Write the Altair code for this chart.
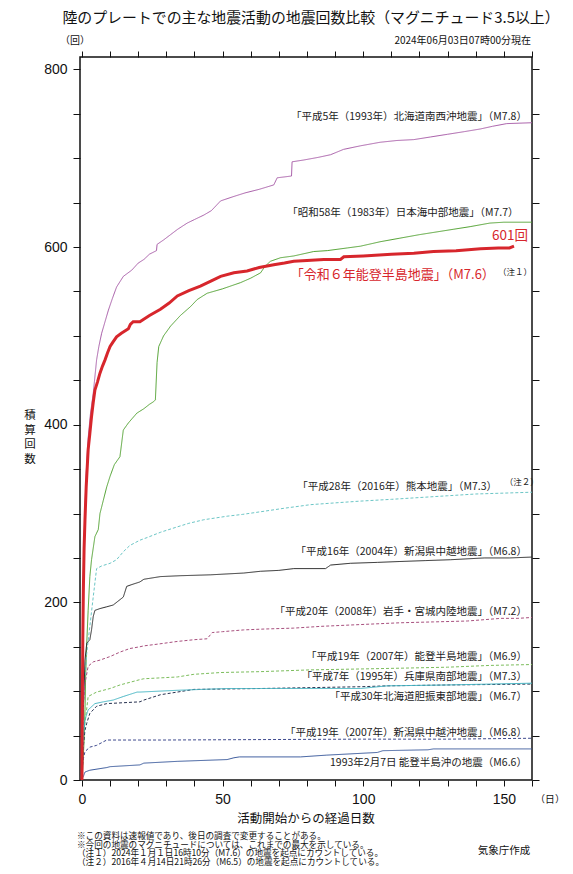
import altair as alt
import pandas as pd

# ---------------- data ----------------
noto2024_days = [0, 0.05, 0.15, 0.3, 0.5, 0.75, 1.07, 1.5, 2.2, 2.8, 3.4, 4.0, 4.6, 5.5, 6.4, 7.3, 8.2, 9.1, 10, 11, 12.3, 14.0, 16.5, 17.2, 18.2, 20.6, 24, 27.9, 31, 33.9, 38, 42.1, 46, 49.3, 54, 58.7, 63, 68.2, 72, 75.3, 80, 86, 91.9, 93.1, 100, 110, 118, 125, 133, 141.7, 148, 152, 153.6]
noto2024_counts = [0, 40, 100, 160, 215, 260, 293, 330, 372, 390, 409, 425, 439, 448, 458, 466, 473, 481, 488, 493, 499, 503, 508, 513, 516, 516, 523, 530, 537, 545, 551, 556, 562, 567, 571, 573, 577, 580, 582, 584, 585, 586, 586, 589, 590, 592, 593, 595, 596, 598, 599, 599, 601]

hokkaido1993_days = [0, 0.1, 0.3, 0.6, 1.0, 1.5, 2.2, 3.0, 4.0, 5.2, 6.0, 7.0, 8.2, 9.4, 10.8, 12.3, 14.7, 17.7, 20, 22, 24, 26.5, 26.7, 29, 31.5, 34, 37.4, 40, 43.3, 46, 49.3, 54, 58, 63, 68.2, 69.4, 72, 74.5, 74.7, 78.8, 84, 88.4, 93, 99, 106, 112, 118, 124, 130, 136, 141.7, 146, 151, 160]
hokkaido1993_counts = [0, 80, 170, 240, 300, 345, 385, 412, 435, 473, 488, 503, 516, 529, 542, 555, 567, 574, 582, 586, 592, 596, 603, 608, 614, 620, 627, 631, 636, 641, 652, 657, 661, 665, 670, 678, 679, 680, 696, 698, 701, 704, 710, 714, 718, 720, 721, 724, 727, 730, 733, 736, 739, 740]

nihonkai1983_days = [0, 0.3, 0.7, 1.07, 1.3, 1.7, 2.2, 2.8, 3.4, 4.6, 5.8, 6.4, 7.6, 8.8, 10, 11.5, 13.5, 14.7, 16.5, 19.5, 22, 24, 25.5, 26.1, 26.7, 27.3, 29, 31.5, 35, 38.6, 41, 44.5, 50, 56.4, 60, 63.5, 65, 67, 70.6, 75.3, 82.4, 87.2, 94.3, 99, 106, 113, 120, 126, 132, 138, 145, 150, 160]
nihonkai1983_counts = [0, 15, 41, 79, 116, 154, 191, 229, 248, 274, 282, 300, 315, 330, 342, 355, 364, 394, 402, 413, 418, 423, 426, 428, 470, 488, 500, 511, 523, 533, 541, 548, 553, 560, 565, 571, 578, 584, 588, 590, 595, 596, 599, 601, 606, 610, 614, 617, 620, 623, 627, 628, 628]

kumamoto2016_days = [0, 0.2, 0.5, 1.07, 1.7, 2.8, 4.0, 5.2, 7, 10, 12.3, 14.7, 17, 20.6, 23.2, 28, 33.9, 38, 43.3, 51.6, 57, 63.5, 72, 81.3, 90, 99, 110, 120, 130, 140, 150, 160]
kumamoto2016_counts = [0, 45, 85, 116, 143, 173, 206, 238, 241, 244, 248, 257, 264, 270, 273, 279, 285, 289, 293, 297, 299, 302, 306, 310, 312, 314, 316, 318, 320, 322, 323, 324]

chuetsu2004_days = [0, 0.1, 0.3, 0.7, 1.07, 1.7, 2.8, 3.4, 4.0, 4.6, 6.4, 8.8, 11.1, 13.5, 14.7, 15.9, 17.7, 20.6, 22, 27.9, 35, 45.7, 57.5, 63.5, 70, 75.3, 86.6, 88.4, 95.5, 105, 113, 122, 131, 143, 152, 160]
chuetsu2004_counts = [0, 30, 65, 98, 135, 154, 158, 169, 184, 191, 193, 195, 197, 203, 206, 218, 220, 223, 226, 229, 230, 231, 233, 235, 236, 238, 238, 242, 244, 245, 246, 247, 248, 250, 250, 251]

iwate2008_days = [0, 0.1, 0.3, 0.6, 1.07, 2.2, 4.0, 6.4, 10, 13.5, 17, 20.6, 22, 27, 33.9, 40, 44.5, 46.3, 50, 57.5, 65, 75.3, 85, 99, 113, 125, 137, 149, 155, 160]
iwate2008_counts = [0, 30, 60, 90, 109, 128, 133, 135, 139, 144, 148, 150, 151, 153, 156, 158, 159, 166, 167, 169, 170, 171, 173, 175, 177, 178, 179, 182, 182, 183]

noto2007_days = [0, 0.1, 0.4, 1.07, 2.2, 5.2, 10, 13.5, 20.6, 22, 28, 33.9, 39.8, 49.3, 63.5, 81.3, 99, 115, 130, 145, 160]
noto2007_counts = [0, 20, 45, 64, 94, 99, 103, 107, 113, 114, 115, 116, 119, 121, 122, 124, 125, 126, 127, 129, 130]

hyogo1995_days = [0, 0.1, 0.4, 1.07, 1.7, 2.8, 5.2, 8.8, 14.7, 20.6, 22, 27.9, 33.9, 39.8, 63.5, 99, 108.5, 130, 160]
hyogo1995_counts = [0, 15, 35, 56, 64, 75, 83, 86, 87, 88, 90, 96, 99, 102, 103, 105, 106, 107, 108]

iburi2018_days = [0, 0.1, 0.4, 1.07, 2.2, 4.6, 7.6, 11.1, 14.7, 19.6, 20.6, 33.9, 51.6, 99, 108.5, 130, 160]
iburi2018_counts = [0, 20, 45, 68, 79, 86, 88, 90, 94, 99, 99, 101, 103, 103, 106, 107, 109]

chuetsuoki2007_days = [0, 0.05, 0.2, 0.5, 1.07, 2.8, 5.2, 8.8, 20.6, 27.9, 99, 130, 160]
chuetsuoki2007_counts = [0, 8, 16, 24, 32, 37, 39, 45, 45, 45, 46, 46, 47]

notooki1993_days = [0, 0.1, 0.5, 1.07, 2.8, 8.8, 10, 20.6, 22, 33.9, 51.6, 54, 56, 77.7, 87, 105, 107, 123, 125, 160]
notooki1993_counts = [0, 2, 4, 9, 11, 14, 15, 17, 19, 21, 23, 25, 26, 26, 28, 31, 33, 34, 35, 35]

series_keys = ["hokkaido1993", "nihonkai1983", "kumamoto2016", "chuetsu2004", "iwate2008",
               "noto2007", "hyogo1995", "iburi2018", "chuetsuoki2007", "notooki1993"]
series_days = [hokkaido1993_days, nihonkai1983_days, kumamoto2016_days, chuetsu2004_days, iwate2008_days,
               noto2007_days, hyogo1995_days, iburi2018_days, chuetsuoki2007_days, notooki1993_days]
series_counts = [hokkaido1993_counts, nihonkai1983_counts, kumamoto2016_counts, chuetsu2004_counts, iwate2008_counts,
                 noto2007_counts, hyogo1995_counts, iburi2018_counts, chuetsuoki2007_counts, notooki1993_counts]
series_styles = ["solid", "solid", "dashed", "solid", "dashed", "dashed", "dashed", "solid", "dashed", "solid"]
series_colors = ["#a95ea9", "#52a232", "#6cc6c6", "#2a2a2a", "#a8507e", "#7cbd5c", "#283250", "#46b6c4", "#3e4a8e", "#3a5a9c"]

label_texts = [
    "「平成5年（1993年）北海道南西沖地震」（M7.8）",
    "「昭和58年（1983年）日本海中部地震」（M7.7）",
    "「平成28年（2016年）熊本地震」（M7.3）",
    "「平成16年（2004年）新潟県中越地震」（M6.8）",
    "「平成20年（2008年）岩手・宮城内陸地震」（M7.2）",
    "「平成19年（2007年）能登半島地震」（M6.9）",
    "「平成7年（1995年）兵庫県南部地震」（M7.3）",
    "「平成30年北海道胆振東部地震」（M6.7）",
    "「平成19年（2007年）新潟県中越沖地震」（M6.8）",
    "1993年2月7日 能登半島沖の地震（M6.6）",
]
label_days = [158.2, 155.2, 147.6, 158.2, 158.2, 158.2, 158.2, 158.2, 158.2, 158.2]
label_counts = [747, 638, 330, 257, 189, 138, 116, 93, 53, 19.5]

footnote_lines = [
    "※この資料は速報値であり、後日の調査で変更することがある。",
    "※今回の地震のマグニチュードについては、これまでの最大を示している。",
    "（注１）2024年１月１日16時10分（M7.6）の地震を起点にカウントしている。",
    "（注２）2016年４月14日21時26分（M6.5）の地震を起点にカウントしている。",
]

x_ticks = list(range(0, 161, 10))
y_ticks = list(range(0, 801, 50))

# ---------------- build tables ----------------
rows = []
for key, ds, cs, st in zip(series_keys, series_days, series_counts, series_styles):
    for i, (d, c) in enumerate(zip(ds, cs)):
        rows.append({"series": key, "style": st, "day": d, "count": c, "i": i})
df = pd.DataFrame(rows)
df_red = pd.DataFrame({"day": noto2024_days, "count": noto2024_counts, "i": range(len(noto2024_days))})
df_labels = pd.DataFrame({"text": label_texts, "day": label_days, "count": label_counts})

XD = [-0.7, 160]
YD = [0, 814]
xs = alt.Scale(domain=XD, nice=False, zero=False)
ys = alt.Scale(domain=YD, nice=False, zero=False)

JP = "Noto Sans CJK JP"
NUM = "Liberation Sans"
RED = "#d7262c"

main_x_axis = alt.Axis(values=x_ticks, labelExpr="datum.value % 50 == 0 ? datum.label : ''",
                       tickSize=6, tickColor="#111", labelFontSize=14, labelFont=NUM, labelColor="#111",
                       labelPadding=6, labelFlush=False, labelOverlap=False, domain=False, grid=False, title=None)
main_y_axis = alt.Axis(values=y_ticks, labelExpr="datum.value % 200 == 0 ? datum.label : ''",
                       tickSize=7, tickColor="#111", labelFontSize=14, labelFont=NUM, labelColor="#111",
                       labelPadding=6, labelFlush=False, labelOverlap=False, domain=False, grid=False, title=None)

thin = alt.Chart(df).mark_line(strokeWidth=1, clip=True).encode(
    x=alt.X("day:Q", scale=xs, axis=main_x_axis),
    y=alt.Y("count:Q", scale=ys, axis=main_y_axis),
    color=alt.Color("series:N", scale=alt.Scale(domain=series_keys, range=series_colors), legend=None),
    strokeDash=alt.StrokeDash("style:N", scale=alt.Scale(domain=["solid", "dashed"], range=[[1, 0], [3, 2]]), legend=None),
    order="i:Q",
)

mirror = alt.Chart(df).mark_line(strokeOpacity=0).encode(
    x=alt.X("day:Q", scale=xs, axis=alt.Axis(orient="top", values=x_ticks, labels=False, tickSize=6, tickColor="#111",
                                              domain=False, grid=False, title=None)),
    y=alt.Y("count:Q", scale=ys, axis=alt.Axis(orient="right", values=y_ticks, labels=False, tickSize=7, tickColor="#111",
                                                domain=False, grid=False, title=None)),
    detail="series:N",
)

red = alt.Chart(df_red).mark_line(strokeWidth=3, color=RED, clip=True).encode(
    x=alt.X("day:Q", scale=xs, axis=None),
    y=alt.Y("count:Q", scale=ys, axis=None),
    order="i:Q",
)

labels = alt.Chart(df_labels).mark_text(align="right", baseline="middle", font=JP, fontSize=10.5, color="#222").encode(
    x=alt.X("day:Q", scale=xs, axis=None),
    y=alt.Y("count:Q", scale=ys, axis=None),
    text="text:N",
)

one = pd.DataFrame({"k": [0]})


def txt(text, x, y, size, align="left", color="#111", font=JP, **kw):
    return alt.Chart(one).mark_text(align=align, baseline="middle", font=font, fontSize=size,
                                    color=color, **kw).encode(
        x=alt.value(x), y=alt.value(y), text=alt.value(text))


def dtxt(text, day, count, size, align="right", color="#222"):
    d = pd.DataFrame({"day": [day], "count": [count], "t": [text]})
    return alt.Chart(d).mark_text(align=align, baseline="middle", font=JP, fontSize=size, color=color).encode(
        x=alt.X("day:Q", scale=xs, axis=None), y=alt.Y("count:Q", scale=ys, axis=None), text="t:N")


extras = [
    dtxt("「令和６年能登半島地震」（M7.6）", 146.8, 568, 13, color=RED),
    dtxt("601回", 158.6, 612, 13.5, color=RED),
    dtxt("（注１）", 154.0, 572, 8.5, align="center"),
    dtxt("（注２）", 156.4, 336, 8.5, align="center"),
    txt("陸のプレートでの主な地震活動の地震回数比較（マグニチュード3.5以上）", 231, -38, 14.9, align="center"),
    txt("（回）", -20, -16, 10),
    txt("2024年06月03日07時00分現在", 451, -16, 10, align="right"),
    txt("積", -50, 359, 11.5, align="center"),
    txt("算", -50, 373.5, 11.5, align="center"),
    txt("回", -50, 388, 11.5, align="center"),
    txt("数", -50, 402.5, 11.5, align="center"),
    txt("活動開始からの経過日数", 226, 762, 12.5, align="center"),
    txt("（日）", 470, 743, 9.8, align="center"),
    alt.Chart(one).mark_text(align="left", baseline="top", font=JP, fontSize=8.6, color="#111",
                             lineBreak="\n", lineHeight=8.5).encode(
        x=alt.value(-3), y=alt.value(775.2), text=alt.value("\n".join(footnote_lines))),
    txt("気象庁作成", 424, 794, 10.5, align="center"),
]

chart = alt.layer(thin, mirror, red, labels, *extras).resolve_axis(
    x="independent", y="independent"
).properties(
    width=452, height=723,
    autosize=alt.AutoSizeParams(type="none"),
    padding={"left": 72, "top": 49, "right": 33, "bottom": 86},
    background="white",
).configure_view(stroke="#111", strokeWidth=1.5)

chart.save("out.html", embed_options={"renderer": "svg", "actions": False})
